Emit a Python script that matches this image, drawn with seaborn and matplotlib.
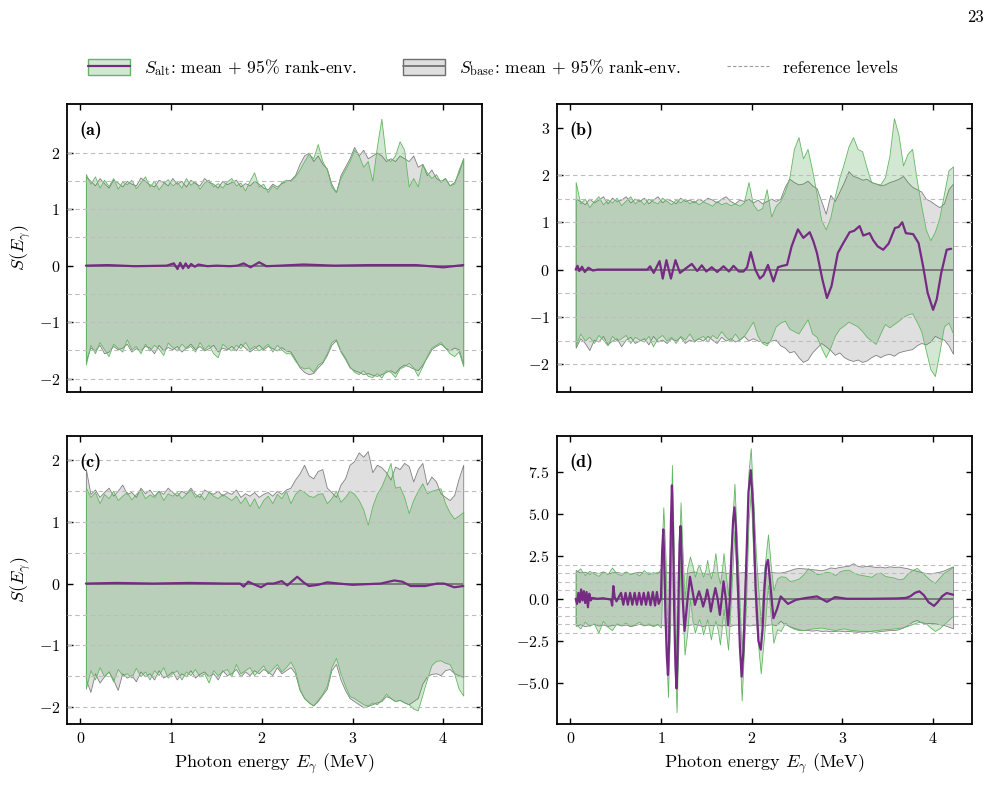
import numpy as np
import matplotlib
matplotlib.use('Agg')
import matplotlib.pyplot as plt
from matplotlib.colors import to_rgba
from matplotlib.patches import Patch
from matplotlib.lines import Line2D
import seaborn as sns

# energy grid for the rank envelopes (MeV)
E_env = np.linspace(0.06, 4.22, 84)
ref_levels = [-2, -1.5, -1, -0.5, 0.5, 1, 1.5, 2]

# ---------------- panel (a) ----------------
a_alt_hi = [1.62, 1.45, 1.58, 1.38, 1.52, 1.41, 1.55, 1.36, 1.49, 1.44,
            1.52, 1.37, 1.47, 1.58, 1.40, 1.50, 1.35, 1.46, 1.53, 1.42,
            1.48, 1.38, 1.55, 1.43, 1.50, 1.36, 1.47, 1.52, 1.40, 1.46,
            1.38, 1.49, 1.55, 1.42, 1.47, 1.33, 1.50, 1.65, 1.40, 1.45,
            1.30, 1.42, 1.36, 1.48, 1.52, 1.50, 1.58, 1.70, 1.85, 1.98,
            1.90, 2.15, 1.85, 1.70, 1.40, 1.30, 1.55, 1.70, 1.85, 2.05,
            1.95, 1.75, 1.85, 1.50, 2.10, 2.60, 1.90, 1.85, 1.95, 2.20,
            2.05, 1.40, 1.55, 1.40, 1.80, 1.65, 1.55, 1.62, 1.48, 1.55,
            1.42, 1.45, 1.70, 1.90]
a_alt_lo = [-1.75, -1.40, -1.55, -1.35, -1.48, -1.60, -1.38, -1.45, -1.52, -1.30,
            -1.48, -1.42, -1.55, -1.38, -1.50, -1.40, -1.47, -1.58, -1.36, -1.44,
            -1.50, -1.38, -1.46, -1.42, -1.52, -1.35, -1.48, -1.40, -1.55, -1.62,
            -1.38, -1.45, -1.50, -1.40, -1.46, -1.35, -1.48, -1.42, -1.50, -1.45,
            -1.38, -1.52, -1.40, -1.48, -1.55, -1.55, -1.68, -1.78, -1.82, -1.80,
            -1.88, -1.75, -1.70, -1.55, -1.35, -1.30, -1.50, -1.62, -1.78, -1.88,
            -1.92, -1.85, -1.95, -1.97, -1.90, -1.98, -1.85, -1.88, -1.97, -1.82,
            -1.78, -1.72, -1.80, -1.95, -1.78, -1.60, -1.45, -1.40, -1.35, -1.45,
            -1.55, -1.60, -1.52, -1.78]
a_base_hi = [1.58, 1.50, 1.42, 1.55, 1.46, 1.38, 1.52, 1.47, 1.40, 1.50,
             1.45, 1.42, 1.56, 1.50, 1.44, 1.40, 1.52, 1.48, 1.42, 1.55,
             1.45, 1.50, 1.40, 1.52, 1.46, 1.42, 1.55, 1.48, 1.45, 1.38,
             1.50, 1.44, 1.48, 1.52, 1.40, 1.46, 1.42, 1.50, 1.45, 1.38,
             1.35, 1.45, 1.40, 1.46, 1.50, 1.52, 1.60, 1.80, 1.95, 2.00,
             1.85, 1.95, 1.80, 1.72, 1.45, 1.30, 1.60, 1.75, 1.90, 2.10,
             1.95, 2.05, 1.90, 1.95, 2.00, 1.95, 1.85, 1.90, 1.85, 1.95,
             1.90, 1.85, 1.95, 1.75, 1.80, 1.60, 1.70, 1.55, 1.50, 1.55,
             1.42, 1.48, 1.65, 1.90]
a_base_lo = [-1.68, -1.45, -1.50, -1.40, -1.55, -1.52, -1.42, -1.48, -1.45, -1.38,
             -1.52, -1.46, -1.50, -1.42, -1.45, -1.55, -1.40, -1.50, -1.44, -1.48,
             -1.42, -1.52, -1.45, -1.38, -1.48, -1.42, -1.50, -1.46, -1.40, -1.52,
             -1.45, -1.48, -1.42, -1.50, -1.38, -1.45, -1.52, -1.46, -1.40, -1.48,
             -1.42, -1.46, -1.50, -1.44, -1.50, -1.52, -1.65, -1.80, -1.88, -1.92,
             -1.90, -1.80, -1.72, -1.58, -1.40, -1.32, -1.52, -1.65, -1.80, -1.85,
             -1.88, -1.92, -1.90, -1.93, -1.95, -1.92, -1.88, -1.85, -1.90, -1.80,
             -1.75, -1.78, -1.82, -1.85, -1.75, -1.62, -1.48, -1.42, -1.38, -1.45,
             -1.50, -1.45, -1.48, -1.75]
a_mean = [(0.06, 0.0), (0.30, 0.01), (0.60, -0.01), (0.95, 0.0), (1.03, 0.04),
          (1.07, -0.06), (1.10, 0.05), (1.13, -0.05), (1.16, 0.04), (1.19, -0.04),
          (1.22, 0.03), (1.26, -0.02), (1.30, 0.02), (1.40, -0.01), (1.50, 0.0),
          (1.65, -0.01), (1.73, 0.0), (1.80, 0.04), (1.875, -0.03), (1.97, 0.06),
          (2.05, -0.01), (2.20, 0.0), (2.46, 0.02), (2.80, 0.0), (3.20, 0.01),
          (3.70, 0.01), (4.00, -0.03), (4.22, 0.01)]

# ---------------- panel (b) ----------------
b_alt_hi = [1.85, 1.40, 1.50, 1.32, 1.45, 1.55, 1.38, 1.48, 1.42, 1.52,
            1.36, 1.46, 1.55, 1.40, 1.48, 1.38, 1.50, 1.44, 1.40, 1.52,
            1.45, 1.38, 1.48, 1.42, 1.50, 1.40, 1.46, 1.38, 1.44, 1.40,
            1.35, 1.45, 1.38, 1.42, 1.36, 1.40, 1.35, 1.42, 1.85, 1.38,
            1.25, 1.30, 1.70, 1.12, 1.35, 1.45, 1.65, 1.95, 2.55, 2.80,
            2.35, 2.55, 2.10, 1.60, 1.05, 0.85, 1.10, 1.55, 1.95, 2.25,
            2.60, 2.80, 2.55, 2.50, 2.15, 1.85, 1.82, 1.80, 1.95, 2.40,
            3.20, 2.85, 2.20, 2.45, 2.55, 1.90, 1.35, 0.85, 0.62, 0.80,
            1.10, 1.60, 2.10, 2.18]
b_alt_lo = [-1.60, -1.35, -1.50, -1.42, -1.55, -1.38, -1.48, -1.60, -1.40, -1.50,
            -1.45, -1.38, -1.55, -1.42, -1.48, -1.52, -1.40, -1.62, -1.45, -1.38,
            -1.50, -1.42, -1.55, -1.40, -1.48, -1.35, -1.50, -1.45, -1.40, -1.52,
            -1.38, -1.45, -1.30, -1.42, -1.50, -1.35, -1.48, -1.40, -1.25, -1.10,
            -1.40, -1.55, -1.60, -1.45, -1.20, -1.12, -1.08, -1.25, -1.30, -1.35,
            -1.20, -1.05, -1.35, -1.42, -1.65, -1.85, -1.65, -1.40, -1.25, -1.18,
            -1.10, -1.15, -1.20, -1.30, -1.42, -1.50, -1.57, -1.35, -1.15, -1.22,
            -1.15, -1.08, -1.00, -0.95, -0.92, -1.10, -1.30, -1.70, -2.10, -2.25,
            -1.75, -1.20, -1.12, -1.35]
b_base_hi = [1.50, 1.45, 1.38, 1.50, 1.42, 1.48, 1.55, 1.40, 1.52, 1.45,
             1.48, 1.55, 1.42, 1.50, 1.45, 1.52, 1.40, 1.48, 1.55, 1.42,
             1.50, 1.46, 1.40, 1.52, 1.45, 1.48, 1.42, 1.50, 1.45, 1.52,
             1.48, 1.42, 1.50, 1.55, 1.45, 1.40, 1.48, 1.45, 1.50, 1.42,
             1.48, 1.40, 1.45, 1.50, 1.45, 1.50, 1.75, 1.92, 1.85, 1.80,
             1.82, 1.88, 1.78, 1.72, 1.45, 1.18, 1.58, 1.45, 1.65, 1.85,
             2.08, 1.98, 1.95, 1.90, 1.92, 1.85, 1.82, 1.78, 1.80, 1.85,
             1.88, 1.92, 1.98, 1.85, 1.75, 1.70, 1.65, 1.50, 1.45, 1.38,
             1.32, 1.40, 1.70, 1.82]
b_base_lo = [-1.65, -1.45, -1.55, -1.70, -1.48, -1.52, -1.40, -1.58, -1.50, -1.45,
             -1.62, -1.48, -1.42, -1.55, -1.50, -1.45, -1.58, -1.40, -1.52, -1.48,
             -1.55, -1.45, -1.50, -1.42, -1.55, -1.48, -1.52, -1.45, -1.50, -1.40,
             -1.48, -1.55, -1.42, -1.50, -1.45, -1.52, -1.48, -1.40, -1.50, -1.45,
             -1.50, -1.52, -1.55, -1.50, -1.48, -1.60, -1.65, -1.75, -1.72, -1.85,
             -1.95, -1.90, -1.75, -1.65, -1.55, -1.62, -1.70, -1.80, -1.75, -1.85,
             -1.90, -1.93, -1.90, -1.95, -1.92, -1.85, -1.80, -1.85, -1.80, -1.78,
             -1.82, -1.75, -1.72, -1.70, -1.68, -1.60, -1.55, -1.58, -1.52, -1.40,
             -1.45, -1.48, -1.60, -1.78]
b_mean = [(0.06, 0.0), (0.08, 0.08), (0.10, -0.03), (0.13, 0.06), (0.16, -0.05),
          (0.20, 0.04), (0.25, -0.02), (0.30, 0.0), (0.50, 0.0), (0.85, 0.0),
          (0.88, 0.07), (0.92, -0.07), (0.985, 0.18), (1.02, -0.19), (1.06, 0.20),
          (1.11, -0.19), (1.16, 0.20), (1.21, -0.07), (1.27, 0.02), (1.34, 0.12),
          (1.40, -0.03), (1.45, 0.09), (1.50, -0.04), (1.56, 0.05), (1.62, -0.05),
          (1.69, 0.07), (1.75, -0.04), (1.80, 0.08), (1.86, -0.04), (1.91, -0.04),
          (1.95, 0.05), (1.99, 0.37), (2.04, 0.0), (2.09, -0.19), (2.13, -0.12),
          (2.18, 0.10), (2.24, -0.25), (2.29, 0.05), (2.34, 0.08), (2.39, 0.10),
          (2.44, 0.49), (2.51, 0.85), (2.57, 0.67), (2.64, 0.79), (2.68, 0.60),
          (2.72, 0.35), (2.78, -0.21), (2.83, -0.60), (2.88, -0.35), (2.95, 0.35),
          (3.01, 0.56), (3.08, 0.79), (3.13, 0.82), (3.19, 0.92), (3.23, 0.72),
          (3.30, 0.77), (3.34, 0.62), (3.39, 0.49), (3.45, 0.42), (3.51, 0.55),
          (3.58, 0.88), (3.62, 0.90), (3.66, 1.00), (3.70, 0.77), (3.78, 0.75),
          (3.84, 0.56), (3.89, 0.07), (3.94, -0.49), (4.00, -0.85), (4.04, -0.63),
          (4.09, -0.07), (4.15, 0.42), (4.20, 0.44)]

# ---------------- panel (c) ----------------
c_alt_hi = [1.55, 1.40, 1.48, 1.30, 1.45, 1.38, 1.50, 1.35, 1.42, 1.48,
            1.36, 1.45, 1.52, 1.38, 1.44, 1.40, 1.50, 1.35, 1.46, 1.42,
            1.48, 1.38, 1.45, 1.52, 1.40, 1.46, 1.36, 1.48, 1.42, 1.38,
            1.45, 1.40, 1.35, 1.42, 1.30, 1.40, 1.25, 1.38, 1.22, 1.35,
            1.42, 1.30, 1.45, 1.38, 1.50, 1.30, 1.45, 1.52, 1.48, 1.42,
            1.40, 1.45, 1.46, 1.30, 1.38, 1.50, 1.32, 1.40, 1.50, 1.45,
            1.35, 1.20, 0.95, 1.25, 1.45, 1.57, 1.75, 1.95, 1.55, 1.57,
            1.40, 1.14, 1.35, 1.50, 1.62, 1.46, 1.50, 1.52, 1.54, 1.30,
            1.15, 1.05, 1.10, 1.16]
c_alt_lo = [-1.70, -1.40, -1.55, -1.35, -1.50, -1.42, -1.58, -1.38, -1.48, -1.45,
            -1.52, -1.36, -1.50, -1.42, -1.55, -1.40, -1.48, -1.35, -1.52, -1.45,
            -1.40, -1.55, -1.42, -1.48, -1.38, -1.50, -1.45, -1.60, -1.40, -1.48,
            -1.42, -1.38, -1.50, -1.30, -1.45, -1.40, -1.35, -1.48, -1.40, -1.32,
            -1.45, -1.38, -1.30, -1.42, -1.35, -1.26, -1.40, -1.70, -1.85, -1.92,
            -1.97, -1.88, -1.78, -1.65, -1.35, -1.20, -1.45, -1.65, -1.82, -1.85,
            -1.90, -1.95, -1.97, -1.92, -1.95, -1.88, -1.78, -1.85, -1.90, -1.88,
            -1.92, -1.95, -2.02, -2.05, -1.80, -1.55, -1.32, -1.25, -1.24, -1.28,
            -1.30, -1.45, -1.70, -1.81]
c_base_hi = [1.85, 1.45, 1.52, 1.40, 1.48, 1.55, 1.42, 1.50, 1.60, 1.45,
             1.48, 1.40, 1.55, 1.46, 1.52, 1.42, 1.50, 1.45, 1.55, 1.48,
             1.42, 1.50, 1.46, 1.55, 1.45, 1.40, 1.52, 1.48, 1.45, 1.50,
             1.42, 1.48, 1.45, 1.52, 1.40, 1.46, 1.42, 1.48, 1.40, 1.45,
             1.48, 1.42, 1.50, 1.45, 1.52, 1.55, 1.68, 1.78, 1.92, 1.75,
             1.70, 1.82, 1.85, 1.55, 1.48, 1.40, 1.60, 1.70, 1.92, 1.98,
             2.12, 2.05, 2.14, 1.80, 1.92, 1.88, 1.80, 1.68, 1.89, 1.85,
             1.95, 1.90, 1.65, 1.85, 1.95, 1.60, 1.73, 1.65, 1.46, 1.40,
             1.35, 1.43, 1.70, 1.92]
c_base_lo = [-1.55, -1.75, -1.45, -1.60, -1.50, -1.42, -1.55, -1.72, -1.45, -1.52,
             -1.48, -1.58, -1.42, -1.50, -1.45, -1.55, -1.40, -1.52, -1.48, -1.42,
             -1.55, -1.45, -1.50, -1.40, -1.52, -1.46, -1.42, -1.50, -1.45, -1.55,
             -1.40, -1.48, -1.45, -1.38, -1.50, -1.42, -1.48, -1.40, -1.45, -1.38,
             -1.42, -1.48, -1.35, -1.45, -1.40, -1.35, -1.45, -1.72, -1.85, -1.92,
             -1.97, -1.90, -1.80, -1.70, -1.40, -1.30, -1.55, -1.72, -1.85, -1.90,
             -1.95, -2.00, -1.98, -1.95, -1.92, -1.90, -1.82, -1.85, -1.90, -1.88,
             -1.92, -1.95, -1.90, -1.85, -1.62, -1.50, -1.46, -1.45, -1.48, -1.40,
             -1.38, -1.45, -1.48, -1.51]
c_mean = [(0.06, 0.0), (0.40, 0.01), (0.80, 0.0), (1.20, 0.01), (1.60, 0.0),
          (1.76, 0.0), (1.80, -0.05), (1.85, 0.03), (1.91, -0.01), (1.99, -0.06),
          (2.06, 0.0), (2.13, 0.0), (2.22, 0.04), (2.28, -0.03), (2.39, 0.11),
          (2.46, 0.02), (2.52, -0.04), (2.62, -0.02), (2.72, 0.02), (2.85, 0.0),
          (3.00, -0.02), (3.15, -0.01), (3.31, 0.0), (3.46, 0.05), (3.55, 0.03),
          (3.64, -0.04), (3.80, -0.04), (3.93, 0.0), (4.01, 0.0), (4.12, -0.06),
          (4.22, -0.04)]

# ---------------- panel (d) ----------------
d_base_hi = [1.70, 1.55, 1.60, 1.48, 1.58, 1.52, 1.62, 1.50, 1.56, 1.60,
             1.52, 1.58, 1.48, 1.55, 1.60, 1.52, 1.56, 1.50, 1.58, 1.54,
             1.60, 1.52, 1.55, 1.58, 1.50, 1.56, 1.62, 1.52, 1.55, 1.48,
             1.58, 1.54, 1.60, 1.52, 1.56, 1.50, 1.55, 1.58, 1.52, 1.55,
             1.50, 1.56, 1.52, 1.58, 1.55, 1.55, 1.60, 1.68, 1.78, 1.82,
             1.80, 1.78, 1.75, 1.72, 1.68, 1.75, 1.85, 1.82, 1.88, 1.92,
             1.95, 2.10, 1.95, 1.90, 1.95, 1.92, 1.88, 1.90, 1.85, 1.92,
             1.88, 1.90, 1.85, 1.80, 1.72, 1.65, 1.58, 1.52, 1.50, 1.55,
             1.60, 1.68, 1.80, 1.92]
d_base_lo = [-1.60, -1.50, -1.62, -1.55, -1.48, -1.58, -1.52, -1.60, -1.55, -1.50,
             -1.58, -1.52, -1.62, -1.55, -1.48, -1.56, -1.52, -1.58, -1.50, -1.55,
             -1.60, -1.52, -1.56, -1.50, -1.58, -1.54, -1.48, -1.55, -1.60, -1.52,
             -1.56, -1.50, -1.58, -1.54, -1.60, -1.52, -1.55, -1.50, -1.58, -1.55,
             -1.52, -1.58, -1.55, -1.50, -1.56, -1.30, -1.50, -1.62, -1.72, -1.80,
             -1.85, -1.85, -1.88, -1.85, -1.90, -1.88, -1.92, -1.90, -1.88, -1.92,
             -1.90, -1.93, -1.95, -1.92, -1.90, -1.92, -1.95, -1.90, -1.88, -1.85,
             -1.85, -1.80, -1.70, -1.55, -1.35, -1.25, -1.40, -1.45, -1.42, -1.45,
             -1.50, -1.55, -1.65, -1.75]
# (E, lower, upper) of the S_alt envelope, finer where the mean oscillates
d_alt = [(0.06, -1.50, 1.55), (0.11, -1.75, 1.80), (0.16, -1.35, 1.40), (0.21, -1.60, 1.65),
         (0.26, -1.45, 1.50), (0.31, -2.00, 1.35), (0.36, -1.30, 1.60), (0.41, -1.65, 1.45),
         (0.46, -1.85, 1.85), (0.51, -1.45, 1.50), (0.56, -1.55, 1.40), (0.61, -1.40, 1.62),
         (0.66, -1.60, 1.48), (0.71, -1.50, 1.55), (0.76, -1.35, 1.38), (0.81, -1.58, 1.70),
         (0.86, -1.45, 1.45), (0.91, -1.62, 1.58), (0.96, -1.50, 1.50),
         (1.00, -1.7, 1.8), (1.026, 2.8, 5.4), (1.05, -1.7, 2.5), (1.077, -5.8, -3.2),
         (1.10, -1.6, 2.2), (1.121, 5.4, 7.9), (1.145, -1.8, 2.0), (1.172, -6.7, -3.8),
         (1.195, -2.2, 1.8), (1.216, 2.9, 5.7), (1.24, -0.8, 2.6), (1.26, -3.3, 0.0),
         (1.29, -2.0, 1.8), (1.32, 0.0, 2.5), (1.35, -1.4, 1.9), (1.374, -2.0, 1.3),
         (1.40, -1.5, 1.8), (1.42, -1.2, 2.0), (1.445, -1.6, 1.6), (1.465, -2.1, 1.3),
         (1.49, -1.6, 1.7), (1.51, -1.2, 2.3), (1.53, -1.8, 1.6), (1.55, -2.4, 1.2),
         (1.575, -1.7, 1.7), (1.60, -1.3, 2.7), (1.625, -1.8, 1.5), (1.65, -2.7, 0.9),
         (1.67, -1.7, 1.6), (1.69, -0.6, 2.7), (1.715, -1.9, 1.4), (1.74, -3.0, 0.2),
         (1.775, 0.3, 3.5), (1.81, 4.0, 6.8), (1.85, -1.2, 2.0), (1.89, -6.0, -3.2),
         (1.94, 0.0, 3.0), (1.965, 4.5, 7.5), (1.99, 6.3, 8.9), (2.045, -1.2, 2.8),
         (2.10, -4.4, -1.5), (2.14, -2.0, 1.8), (2.18, 0.8, 3.8), (2.21, -1.0, 2.0),
         (2.24, -2.6, 0.5), (2.28, -1.8, 1.2), (2.32, -1.9, 1.33),
         (2.37, -1.40, 1.30), (2.42, -1.65, 1.05), (2.47, -1.78, 1.10), (2.52, -1.85, 1.20),
         (2.57, -1.85, 1.45), (2.62, -1.80, 1.80), (2.67, -1.75, 1.65), (2.72, -1.72, 1.45),
         (2.77, -1.70, 1.50), (2.82, -1.75, 1.60), (2.87, -1.80, 1.55), (2.92, -1.85, 1.40),
         (2.97, -1.78, 1.62), (3.02, -1.75, 1.70), (3.07, -1.82, 1.72), (3.12, -1.85, 1.55),
         (3.17, -1.88, 1.45), (3.22, -1.92, 1.40), (3.27, -1.94, 1.35), (3.32, -1.88, 1.30),
         (3.37, -1.85, 1.50), (3.42, -1.82, 1.55), (3.47, -1.80, 1.35), (3.52, -1.78, 1.30),
         (3.57, -1.75, 1.25), (3.62, -1.72, 1.15), (3.67, -1.68, 1.20), (3.72, -1.60, 1.50),
         (3.77, -1.50, 1.70), (3.82, -1.40, 1.82), (3.87, -1.35, 1.60), (3.92, -1.45, 1.35),
         (3.97, -1.70, 1.10), (4.02, -1.90, 0.95), (4.07, -1.75, 1.25), (4.12, -1.50, 1.55),
         (4.17, -1.25, 1.70), (4.22, -1.00, 1.90)]
d_mean = [(0.06, 0.0), (0.075, -0.3), (0.09, 0.35), (0.105, -0.2), (0.12, 0.55),
          (0.135, -0.1), (0.15, 0.45), (0.165, -0.25), (0.18, 0.4), (0.195, -0.5),
          (0.21, 0.3), (0.225, -0.1), (0.24, 0.05), (0.30, 0.0), (0.36, 0.03),
          (0.42, -0.02), (0.45, -0.05), (0.462, -0.4), (0.475, 0.75), (0.49, 0.1),
          (0.51, -0.15), (0.535, 0.1), (0.56, 0.35), (0.585, -0.35), (0.61, 0.35),
          (0.635, -0.35), (0.66, 0.35), (0.685, -0.35), (0.71, 0.35), (0.735, -0.35),
          (0.76, 0.35), (0.785, -0.35), (0.81, 0.35), (0.835, -0.35), (0.86, 0.38),
          (0.885, -0.38), (0.91, 0.4), (0.935, -0.4), (0.955, 0.4), (0.975, -0.3),
          (1.00, 0.0), (1.013, 2.8), (1.026, 4.1), (1.038, 2.0), (1.05, -1.0),
          (1.064, -3.3), (1.077, -4.5), (1.09, -2.5), (1.10, 1.0), (1.11, 4.5),
          (1.121, 6.7), (1.133, 4.0), (1.145, -0.5), (1.16, -4.0), (1.172, -5.3),
          (1.184, -3.2), (1.195, 0.5), (1.205, 3.2), (1.216, 4.3), (1.228, 2.5),
          (1.24, 0.0), (1.26, -1.9), (1.29, -0.2), (1.32, 1.3), (1.35, 0.4),
          (1.374, -0.36), (1.40, 0.1), (1.42, 0.44), (1.445, 0.0), (1.465, -0.46),
          (1.49, 0.0), (1.51, 0.54), (1.53, 0.0), (1.55, -0.75), (1.575, 0.0),
          (1.60, 0.63), (1.625, 0.0), (1.65, -0.95), (1.67, 0.0), (1.69, 1.03),
          (1.715, 0.0), (1.74, -1.55), (1.76, 0.0), (1.775, 2.2), (1.795, 4.6),
          (1.81, 5.4), (1.825, 4.3), (1.85, 0.5), (1.87, -2.8), (1.89, -4.6),
          (1.91, -3.0), (1.94, 2.0), (1.965, 6.3), (1.99, 7.6), (2.015, 5.5),
          (2.045, 0.5), (2.075, -2.5), (2.10, -3.0), (2.12, -1.8), (2.14, 0.5),
          (2.16, 2.0), (2.18, 2.3), (2.21, 0.6), (2.24, -1.15), (2.28, -0.6),
          (2.32, 0.14), (2.40, -0.3), (2.49, -0.06), (2.60, 0.05), (2.72, 0.14),
          (2.83, -0.18), (2.92, 0.1), (3.05, 0.0), (3.30, 0.0), (3.60, 0.02),
          (3.70, 0.05), (3.75, 0.15), (3.80, 0.35), (3.85, 0.44), (3.90, 0.2),
          (3.95, -0.2), (4.01, -0.42), (4.05, -0.2), (4.10, 0.15), (4.15, 0.34),
          (4.22, 0.24)]

# ---------------- style ----------------
sns.set_theme(style='ticks')
plt.rcParams['font.family'] = ['cmr10', 'DejaVu Serif']
plt.rcParams['mathtext.fontset'] = 'cm'
plt.rcParams['axes.formatter.use_mathtext'] = True
plt.rcParams['axes.unicode_minus'] = True
for k in ['text.color', 'axes.labelcolor', 'xtick.color', 'ytick.color', 'axes.edgecolor']:
    plt.rcParams[k] = 'black'

alt_c = '#62b862'
base_c = '#808080'
mean_c = '#762a83'
alt_face = to_rgba('#3a9a3a', 0.22)
base_face = to_rgba('#8c8c8c', 0.28)

fig, axes = plt.subplots(2, 2, figsize=(10.03, 8.06), dpi=100, sharex=True)
fig.subplots_adjust(left=0.0668, right=0.969, top=0.871, bottom=0.1017,
                    wspace=0.18, hspace=0.155)

panels = [
    ('(a)', E_env, a_alt_lo, a_alt_hi, E_env, a_base_lo, a_base_hi, a_mean, (-2.23, 2.86), [-2, -1, 0, 1, 2]),
    ('(b)', E_env, b_alt_lo, b_alt_hi, E_env, b_base_lo, b_base_hi, b_mean, (-2.58, 3.50), [-2, -1, 0, 1, 2, 3]),
    ('(c)', E_env, c_alt_lo, c_alt_hi, E_env, c_base_lo, c_base_hi, c_mean, (-2.27, 2.38), [-2, -1, 0, 1, 2]),
    ('(d)', [p[0] for p in d_alt], [p[1] for p in d_alt], [p[2] for p in d_alt],
     E_env, d_base_lo, d_base_hi, d_mean, (-7.4, 9.6), [-5, -2.5, 0, 2.5, 5, 7.5]),
]

for ax, (tag, ea, alo, ahi, eb, blo, bhi, mean, ylim, yt) in zip(axes.flat, panels):
    ax.fill_between(eb, blo, bhi, facecolor=base_face, edgecolor=base_c, linewidth=0.6, zorder=1)
    ax.fill_between(ea, alo, ahi, facecolor=alt_face, edgecolor=alt_c, linewidth=0.6, zorder=2)
    for lev in ref_levels:
        ax.axhline(lev, color='#bdbdbd', ls=(0, (4, 3)), lw=0.8, zorder=3)
    # zero reference only across the sampled energy range
    ax.hlines(0, eb[0], eb[-1], color='#7a7a7a', lw=1.4, zorder=3)
    sns.lineplot(x=[p[0] for p in mean], y=[p[1] for p in mean], ax=ax, color=mean_c,
                 lw=1.6, sort=False, estimator=None, zorder=4)
    ax.set_xlim(-0.148, 4.428)
    ax.set_ylim(*ylim)
    ax.set_yticks(yt)
    ax.set_xticks([0, 1, 2, 3, 4])
    ax.tick_params(direction='in', top=True, right=True, length=4.5, width=1.0,
                   labelsize=11.5, pad=5, colors='black')
    for s in ax.spines.values():
        s.set_linewidth(1.3)
        s.set_color('black')
    ax.text(0.03, 0.91, tag, transform=ax.transAxes, va='center', ha='left',
            fontsize=13, fontfamily='cmb10', color='black')
    ax.set_xlabel('')
    ax.set_ylabel('')

for ax in axes[:, 0]:
    ax.set_ylabel(r'$S(E_\gamma)$', fontsize=13)
for ax in axes[1, :]:
    ax.set_xlabel(r'Photon energy $E_\gamma$ (MeV)', fontsize=13)

h_alt = (Patch(facecolor=alt_face, edgecolor=alt_c, linewidth=1.0),
         Line2D([], [], color=mean_c, lw=1.6))
h_base = (Patch(facecolor=base_face, edgecolor='#6e6e6e', linewidth=1.0),
          Line2D([], [], color='#7a7a7a', lw=1.4))
h_ref = Line2D([], [], color='#9a9a9a', ls=(0, (3, 2)), lw=0.8)
fig.legend([h_alt, h_base, h_ref],
           [r'$S_{\rm alt}$: mean + 95% rank-env.',
            r'$S_{\rm base}$: mean + 95% rank-env.',
            'reference levels'],
           loc='center', bbox_to_anchor=(0.4915, 0.916), ncol=3, frameon=False,
           fontsize=12.6, handlelength=2.4, handleheight=1.0, columnspacing=2.6)

fig.text(0.973, 0.978, '23', ha='center', va='center', fontsize=12)

fig.savefig('out.png', dpi=100)
